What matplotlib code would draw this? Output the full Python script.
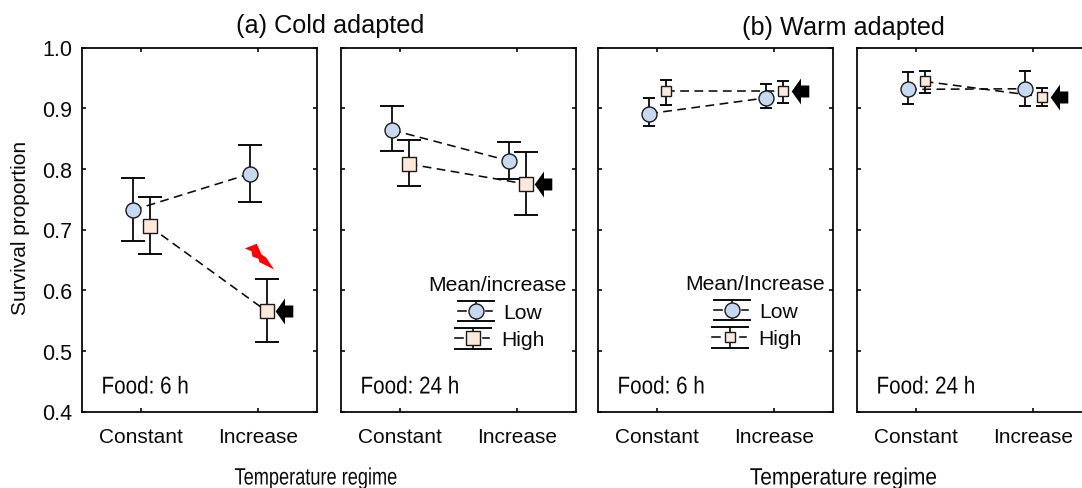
import matplotlib
matplotlib.use("Agg")
import matplotlib.pyplot as plt
from matplotlib.path import Path
from matplotlib.patheffects import AbstractPathEffect
from matplotlib.transforms import Affine2D

W, H = 1082, 489
plt.rcParams['font.family'] = ['Liberation Sans', 'DejaVu Sans']

categories = ['Constant', 'Increase']
panel_food = ['Food: 6 h', 'Food: 24 h', 'Food: 6 h', 'Food: 24 h']

low_mean = [[0.732, 0.792], [0.864, 0.813], [0.891, 0.917], [0.931, 0.932]]
low_upper = [[0.785, 0.840], [0.904, 0.844], [0.916, 0.940], [0.959, 0.961]]
low_lower = [[0.681, 0.746], [0.829, 0.783], [0.871, 0.900], [0.907, 0.904]]
high_mean = [[0.705, 0.565], [0.808, 0.775], [0.928, 0.928], [0.944, 0.919]]
high_upper = [[0.754, 0.619], [0.848, 0.828], [0.947, 0.945], [0.961, 0.934]]
high_lower = [[0.659, 0.515], [0.771, 0.724], [0.906, 0.908], [0.925, 0.904]]

BLUE, PEACH, INK = '#C6D9F1', '#FDE9D9', '#0A0A0A'
PX = 0.72  # points per pixel at 100 dpi

fig = plt.figure(figsize=(W / 100, H / 100), dpi=100)
top_px = Affine2D().scale(1, -1).translate(0, H)  # pixel coordinates, origin top-left


class Squeeze(AbstractPathEffect):
    """Narrow a text horizontally about an anchor, as in the condensed labels."""

    def __init__(self, anchor, ratio):
        super().__init__()
        self.anchor, self.ratio = anchor, ratio

    def draw_path(self, renderer, gc, tpath, affine, rgbFace=None):
        squeezed = affine + Affine2D().translate(-self.anchor, 0).scale(self.ratio, 1).translate(self.anchor, 0)
        renderer.draw_path(gc, tpath, squeezed, rgbFace)


def ftext(x, y, s, squeeze=None, **kw):
    kw.setdefault('va', 'center')
    kw.setdefault('color', INK)
    t = fig.text(x, y, s, transform=top_px, **kw)
    if squeeze:
        t.set_path_effects([Squeeze(x, squeeze)])


def series(ax, xs, mean, up, lo, marker, ms, face, cap, zorder=3):
    yerr = [[m - l for m, l in zip(mean, lo)], [u - m for m, u in zip(mean, up)]]
    ax.errorbar(xs, mean, yerr=yerr, fmt='none', ecolor=INK, elinewidth=1.3,
                capsize=cap, capthick=1.4, zorder=zorder)
    ax.plot(xs, mean, ls=(0, (5.5, 3.4)), lw=1.15, color=INK, zorder=zorder)
    ax.plot(xs, mean, ls='none', marker=marker, ms=ms, mfc=face, mec='#1A1A1A', mew=1.0, zorder=zorder + 1)


ARROW = Path([(-8.8, 0), (0.5, -13), (0.5, -6), (8.8, -6), (8.8, 6), (0.5, 6), (0.5, 13), (-8.8, 0)], closed=True)
BOLT = Path([(-14.7, 8), (-2.7, 12.7), (2, 2), (6.3, -0.7), (14.7, -13), (0, -5.7), (-1, -2.3), (-7, 0), (-8, 5.3), (-14.7, 8)], closed=True)

lefts = [82, 341, 598, 857]
marker_sq = [10.6, 10.6, 7.0, 7.0]
cap_sz = [8.6, 8.6, 4.6, 4.6]
for i, left in enumerate(lefts):
    ax = fig.add_axes([left / W, (H - 412.5) / H, 234.5 / W, 364 / H])
    ax.set_xlim(-0.5, 1.5)
    ax.set_ylim(0.4, 1.0)
    ax.autoscale(False)
    for s in ax.spines.values():
        s.set_linewidth(1.3)
        s.set_color(INK)
    ax.set_xticks([0, 1], categories)
    ax.set_yticks([0.4, 0.5, 0.6, 0.7, 0.8, 0.9, 1.0])
    ax.tick_params(direction='in', length=3.2, width=1.2, top=True, right=True, color=INK,
                   labelsize=15, labelcolor=INK)
    ax.tick_params(axis='y', labelleft=(i == 0), labelsize=15.5, pad=7)
    ax.tick_params(axis='x', pad=11)
    series(ax, [-0.064, 0.936], low_mean[i], low_upper[i], low_lower[i], 'o', 10.8, BLUE, cap_sz[i])
    series(ax, [0.077, 1.077], high_mean[i], high_upper[i], high_lower[i], 's', marker_sq[i], PEACH, cap_sz[i])
    ax.plot(1.2255, high_mean[i][1], marker=ARROW, ms=26 * PX, mfc='black', mec='black', mew=0, zorder=6)
    if i == 0:
        ax.set_ylabel('Survival proportion', fontsize=15, color=INK)
        ax.yaxis.set_label_coords(-0.221, 0.508)
        ax.plot(1.006, 0.656, marker=BOLT, ms=29.4 * PX, mfc='#FF0000', mec='#FF0000', mew=0, zorder=6)
    ftext(left + 19.5, 388.5, panel_food[i], squeeze=0.85, fontsize=17.5, ha='left')

ftext(330, 26, '(a) Cold adapted', fontsize=18.2, ha='center')
ftext(843, 28, '(b) Warm adapted', fontsize=18.2, ha='center')
ftext(316, 479.5, 'Temperature regime', squeeze=0.77, fontsize=17, ha='center')
ftext(843.5, 479.5, 'Temperature regime', squeeze=0.886, fontsize=17, ha='center')

# legends, drawn as small error-bar glyphs
legend_labels = ['Low', 'High']
overlay = fig.add_axes([0, 0, 1, 1], facecolor='none')
overlay.set_xlim(0, W)
overlay.set_ylim(H, 0)
overlay.axis('off')


def glyph(x, y, half, gap, marker, ms, face):
    overlay.plot([x - half, x - half + 8], [y, y], color=INK, lw=1.15)
    overlay.plot([x + half - 8, x + half - 2], [y, y], color=INK, lw=1.15)
    overlay.plot([x, x], [y - gap, y + gap], color=INK, lw=1.2)
    overlay.plot([x - half, x + half], [y - gap, y - gap], color=INK, lw=1.4)
    overlay.plot([x - half, x + half], [y + gap, y + gap], color=INK, lw=1.4)
    overlay.plot(x, y, marker=marker, ms=ms, mfc=face, mec='#1A1A1A', mew=1.0)


for title, tx, lx, hx, dy, sq in [('Mean/increase', 497.5, 476, 473.3, 1, 10.6), ('Mean/Increase', 755.5, 732.3, 730, 0, 7.0)]:
    ftext(tx, 285 + dy, title, fontsize=15.2, ha='center')
    glyph(lx, 311 + dy, 18, 10.3, 'o', 10.8, BLUE)
    glyph(hx, 338 + dy, 18, 10.5, 's', sq, PEACH)
    ftext(lx + 27, 312.5 + dy, legend_labels[0], fontsize=15.2, ha='left')
    ftext(hx + 28, 340 + dy, legend_labels[1], fontsize=15.2, ha='left')

fig.savefig('out.png', dpi=100)
